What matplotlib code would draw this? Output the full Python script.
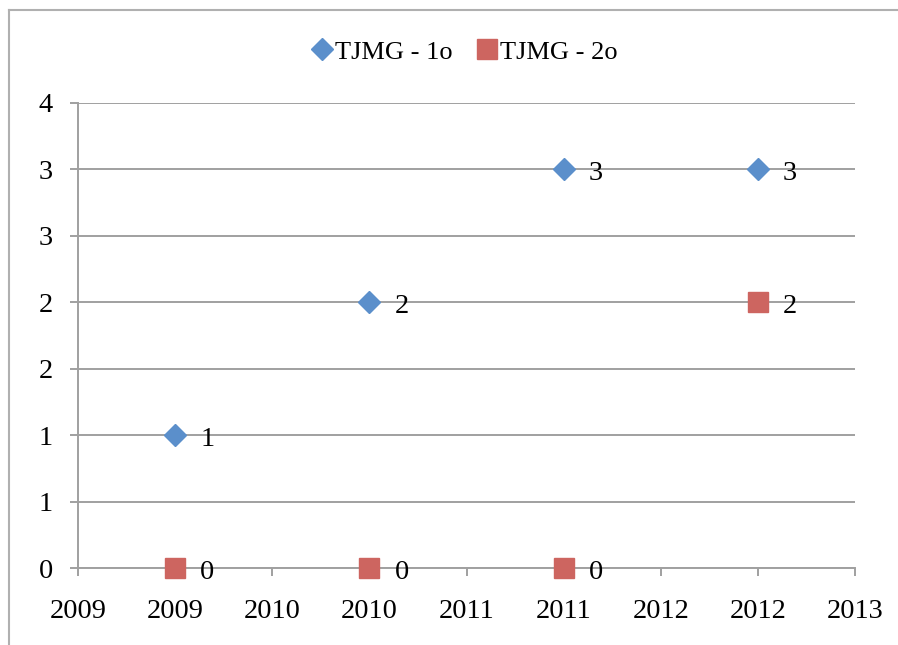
import numpy as np
import matplotlib.pyplot as plt
from matplotlib.ticker import MultipleLocator, FuncFormatter
from matplotlib.lines import Line2D

# data
years = [2009, 2010, 2011, 2012]
tjmg_1o = [1, 2, 3, 3]
tjmg_2o = [0, 0, 0, 2]
series_names = ["TJMG - 1o", "TJMG - 2o"]

BLUE = "#5B8FCB"
RED = "#CD6560"
GRID = "#A0A0A0"

plt.rcParams["font.family"] = ["Liberation Serif", "DejaVu Serif"]

fig = plt.figure(figsize=(8.98, 6.45), dpi=100)
ax = fig.add_axes([78 / 898, 1 - 568 / 645, (855 - 78) / 898, (568 - 103) / 645])


def round_half_up(v, pos=None):
    return str(int(np.floor(v + 0.5 + 1e-9)))


ax.plot(years, tjmg_1o, linestyle="none", marker="D", ms=11.5, color=BLUE,
        mec=BLUE, zorder=3, clip_on=False, label=series_names[0])
ax.plot(years, tjmg_2o, linestyle="none", marker="s", ms=14.5, color=RED,
        mec=RED, zorder=3, clip_on=False, label=series_names[1])

for xs, ys in [(years, tjmg_1o), (years, tjmg_2o)]:
    for x, y in zip(xs, ys):
        ax.annotate(round_half_up(y), (x, y), xytext=(18, -3),
                    textcoords="offset points", va="center", ha="left",
                    fontsize=20.5, zorder=4)

ax.set_xlim(2008.5, 2012.5)
ax.set_ylim(0, 3.5)
ax.xaxis.set_major_locator(MultipleLocator(0.5))
ax.yaxis.set_major_locator(MultipleLocator(0.5))
ax.xaxis.set_major_formatter(FuncFormatter(round_half_up))
ax.yaxis.set_major_formatter(FuncFormatter(round_half_up))

ax.grid(axis="y", color=GRID, linewidth=1.4)
ax.set_axisbelow(True)
for s in ["top", "right"]:
    ax.spines[s].set_visible(False)
for s in ["left", "bottom"]:
    ax.spines[s].set_color(GRID)
    ax.spines[s].set_linewidth(1.4)
ax.tick_params(axis="both", direction="out", length=6, width=1.4, color=GRID,
               labelsize=20.5)
ax.tick_params(axis="x", pad=16)
ax.tick_params(axis="y", pad=12)

handles = [
    Line2D([], [], linestyle="none", marker="D", ms=11, color=BLUE),
    Line2D([], [], linestyle="none", marker="s", ms=14.5, color=RED),
]
fig.legend(handles, series_names, loc="center", bbox_to_anchor=(463 / 898, 1 - 52 / 645),
           ncol=2, frameon=False, fontsize=19, handletextpad=0.0,
           columnspacing=0.8, handlelength=1.0)

# chart area border (top and left edges visible)
fig.add_artist(Line2D([9 / 898, 9 / 898], [0, 1 - 10 / 645], color="#B0B0B0",
                      linewidth=1.5, transform=fig.transFigure))
fig.add_artist(Line2D([9 / 898, 1], [1 - 10 / 645, 1 - 10 / 645], color="#B0B0B0",
                      linewidth=1.5, transform=fig.transFigure))

fig.savefig("out.png", dpi=100)
